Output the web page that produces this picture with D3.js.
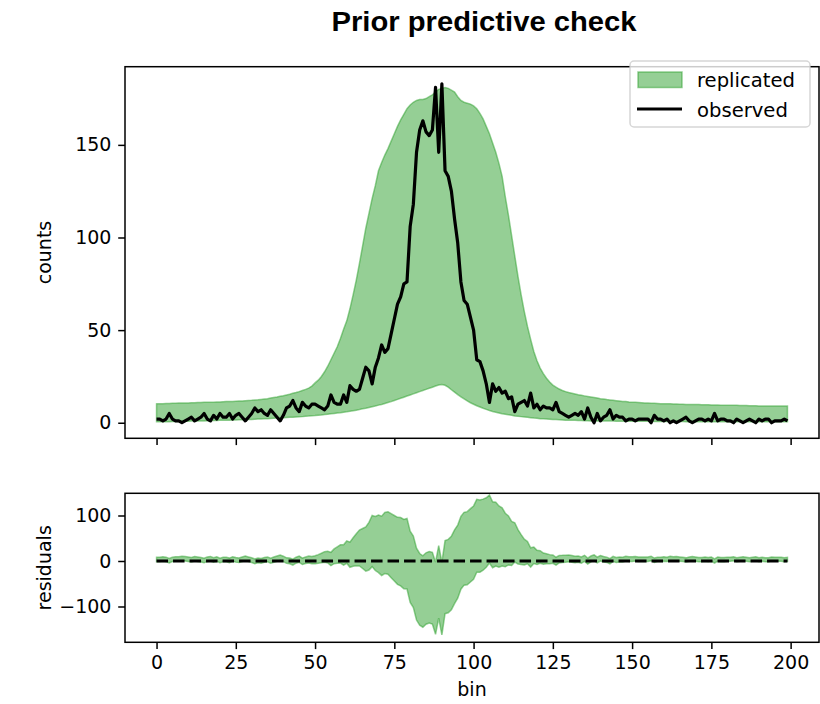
<!DOCTYPE html>
<html>
<head>
<meta charset="utf-8">
<script src="https://cdn.jsdelivr.net/npm/d3@7"></script>
<style>
body { margin: 0; background: #fff; }
text { font-family: "DejaVu Sans", sans-serif; fill: #000; }
</style>
</head>
<body>
<div id="chart"></div>
<script>
// bin index 0..199
var bins = d3.range(200);

// observed counts per bin
var observed = [
    2,2,1,2,5,2,1,1,0,1, 2,3,1,2,3,5,2,1,4,2,
    5,3,3,5,2,4,5,3,1,3, 5,8,6,7,5,4,7,5,3,1,
    4,8,9,12,8,6,11,9,8,10, 10,9,8,7,9,15,11,10,10,15,
    11,20,18,17,18,24,30,28,21,30, 35,42,38,40,48,56,64,68,75,76,
    106,118,146,158,163,157,155,158,181,146, 183,136,133,125,110,97,76,66,64,57,
    50,34,33,28,21,11,21,17,19,16, 17,13,14,6,10,11,12,9,16,8,
    10,7,9,8,8,7,11,6,5,4, 3,4,5,4,6,2,8,3,0,5,
    1,3,4,7,2,4,3,3,1,2, 2,1,2,2,2,2,0,4,2,2,
    1,2,0,1,0,1,2,3,1,0, 1,2,2,1,2,1,5,1,2,2,
    1,1,0,2,1,0,1,2,1,0, 2,1,2,2,0,1,1,1,2,1
];

// replicated band, lower edge
var replicatedLow = [
    0.5,0.5,0.6,0.6,0.6,0.7,0.7,0.7,0.8,0.8, 0.8,0.9,0.9,1.0,1.0,1.0,1.1,1.1,1.2,1.2,
    1.3,1.3,1.4,1.4,1.5,1.5,1.6,1.6,1.7,1.8, 1.8,1.9,2.0,2.0,2.1,2.2,2.3,2.4,2.5,2.6,
    2.7,2.8,2.9,3.0,3.1,3.2,3.3,3.5,3.6,3.8, 3.9,4.1,4.2,4.4,4.6,4.8,5.0,5.2,5.4,5.7,
    5.9,6.2,6.5,6.8,7.1,7.5,7.8,8.2,8.6,9.0, 9.5,9.9,10.4,10.9,11.4,12.0,12.6,13.2,13.8,14.4,
    15.0,15.6,16.2,16.8,17.4,18.0,18.6,19.2,19.8,20.4, 20.6,20.2,19.2,17.8,16.5,15.2,14.0,12.9,11.8,10.8,
    10.0,9.2,8.5,7.8,7.2,6.6,6.1,5.7,5.3,4.9, 4.6,4.3,4.0,3.7,3.5,3.3,3.1,2.9,2.7,2.5,
    2.4,2.2,2.1,2.0,1.9,1.8,1.7,1.6,1.5,1.4, 1.4,1.3,1.3,1.2,1.2,1.1,1.1,1.0,1.0,1.0,
    0.95,0.95,0.9,0.9,0.9,0.85,0.85,0.85,0.8,0.8, 0.8,0.8,0.75,0.75,0.75,0.75,0.7,0.7,0.7,0.7,
    0.7,0.7,0.65,0.65,0.65,0.65,0.65,0.6,0.6,0.6, 0.6,0.6,0.6,0.6,0.55,0.55,0.55,0.55,0.55,0.55,
    0.55,0.55,0.5,0.5,0.5,0.5,0.5,0.5,0.5,0.5, 0.5,0.5,0.5,0.5,0.5,0.5,0.5,0.5,0.5,0.5
];

// replicated band, upper edge
var replicatedHigh = [
    10.2,10.3,10.3,10.4,10.4,10.5,10.5,10.6,10.6,10.7, 10.7,10.8,10.8,10.9,10.9,11.0,11.0,11.1,11.1,11.2,
    11.2,11.3,11.4,11.4,11.5,11.6,11.7,11.8,11.9,12.0, 12.1,12.3,12.4,12.6,12.8,13.0,13.3,13.6,13.9,14.3,
    14.6,15.0,15.4,15.9,16.3,16.8,17.4,18.0,18.7,19.8, 21.5,23.0,25.0,27.5,30.5,34.0,37.5,41.0,45.5,50.5,
    55.0,61.5,69.0,77.0,86.0,95.5,105,113,121,128, 136,140.5,144.5,148,152,156,160,163.5,166.5,169.5,
    171.5,173,174,174.5,174.5,175,176,177,178.5,180, 180.5,181,180.5,179.5,178.5,176,174,173,172.5,172,
    171,169.5,167,164,160,156,151,146,140,133, 122,112,101,90,79,69,60,52,45,38.5,
    33.5,29.5,26.5,24.0,22.0,20.3,19.2,18.2,17.4,16.8, 16.3,15.9,15.5,15.1,14.8,14.5,14.2,13.9,13.6,13.3,
    13.0,12.8,12.5,12.3,12.1,11.9,11.7,11.5,11.4,11.2, 11.1,11.0,10.9,10.8,10.7,10.6,10.5,10.5,10.4,10.3,
    10.3,10.2,10.2,10.1,10.1,10.0,10.0,9.9,9.9,9.9, 9.8,9.8,9.7,9.7,9.7,9.6,9.6,9.6,9.5,9.5,
    9.5,9.4,9.4,9.4,9.3,9.3,9.3,9.2,9.2,9.2, 9.1,9.1,9.1,9.1,9.0,9.0,9.0,9.0,9.0,9.0
];

var countTicks = [0, 50, 100, 150];
var residualTicks = [-100, 0, 100];
var binTicks = [0, 25, 50, 75, 100, 125, 150, 175, 200];

var green = "#2ca02c";
var fontSize = "19px";
var lineW = 3.2;

var svg = d3.select("#chart").append("svg")
    .attr("width", 820)
    .attr("height", 704);

var x = d3.scaleLinear().domain([-9.95, 208.95]).range([125, 819]);
var yTop = d3.scaleLinear().domain([-8.4, 192.2]).range([438.3, 66.7]);
var yRes = d3.scaleLinear().domain([-178.7, 148.8]).range([642.3, 493.3]);

var fmt = function (d) { return d < 0 ? "\u2212" + Math.abs(d) : d; };

function styleAxis(g) {
    g.select(".domain").remove();
    g.selectAll(".tick line").attr("stroke", "#000").attr("stroke-width", 1.5);
    g.selectAll(".tick text").style("font-size", fontSize).attr("fill", "#000");
}

// ---- top panel ----
var band = d3.area()
    .x(function (d) { return x(d); })
    .y0(function (d) { return yTop(replicatedLow[d]); })
    .y1(function (d) { return yTop(replicatedHigh[d]); });

svg.append("path")
    .datum(bins)
    .attr("d", band)
    .attr("fill", green).attr("fill-opacity", 0.5)
    .attr("stroke", green).attr("stroke-opacity", 0.5).attr("stroke-width", 1.5);

svg.append("path")
    .datum(bins)
    .attr("d", d3.line().x(function (d) { return x(d); }).y(function (d) { return yTop(observed[d]); }))
    .attr("fill", "none")
    .attr("stroke", "#000")
    .attr("stroke-width", lineW)
    .attr("stroke-linejoin", "round");

svg.append("g")
    .attr("transform", "translate(125,0)")
    .call(d3.axisLeft(yTop).tickValues(countTicks).tickFormat(fmt).tickSize(6.8).tickPadding(6.8))
    .call(styleAxis);

svg.append("g")
    .attr("transform", "translate(0,438.3)")
    .call(d3.axisBottom(x).tickValues(binTicks).tickFormat("").tickSize(6.8))
    .call(styleAxis);

svg.append("rect")
    .attr("x", 125).attr("y", 66.7).attr("width", 694).attr("height", 371.6)
    .attr("fill", "none").attr("stroke", "#000").attr("stroke-width", 1.5);

svg.append("text")
    .attr("transform", "translate(51,252.5) rotate(-90)")
    .attr("text-anchor", "middle")
    .style("font-size", fontSize)
    .text("counts");

// legend
var leg = svg.append("g");
leg.append("rect")
    .attr("x", 630).attr("y", 61).attr("width", 180).attr("height", 66).attr("rx", 4)
    .attr("fill", "#fff").attr("fill-opacity", 0.8)
    .attr("stroke", "#ccc").attr("stroke-opacity", 0.8).attr("stroke-width", 1.5);
leg.append("rect")
    .attr("x", 638).attr("y", 72).attr("width", 44).attr("height", 15.5)
    .attr("fill", green).attr("fill-opacity", 0.5)
    .attr("stroke", green).attr("stroke-opacity", 0.5).attr("stroke-width", 1.5);
leg.append("line")
    .attr("x1", 637).attr("x2", 682).attr("y1", 109).attr("y2", 109)
    .attr("stroke", "#000").attr("stroke-width", lineW);
leg.append("text").attr("x", 697).attr("y", 86.5).style("font-size", "19.6px").text("replicated");
leg.append("text").attr("x", 697).attr("y", 116.5).style("font-size", "19.6px").text("observed");

// ---- residual panel ----
// residual band = replicated edges minus observed
var resBand = d3.area()
    .x(function (d) { return x(d); })
    .y0(function (d) { return yRes(replicatedLow[d] - observed[d]); })
    .y1(function (d) { return yRes(replicatedHigh[d] - observed[d]); });

svg.append("path")
    .datum(bins)
    .attr("d", resBand)
    .attr("fill", green).attr("fill-opacity", 0.5)
    .attr("stroke", green).attr("stroke-opacity", 0.5).attr("stroke-width", 1.5);

svg.append("path")
    .datum(bins)
    .attr("d", d3.line().x(function (d) { return x(d); }).y(function () { return yRes(0); }))
    .attr("fill", "none")
    .attr("stroke", "#000")
    .attr("stroke-width", lineW)
    .attr("stroke-dasharray", "11.5,5");

svg.append("g")
    .attr("transform", "translate(125,0)")
    .call(d3.axisLeft(yRes).tickValues(residualTicks).tickFormat(fmt).tickSize(6.8).tickPadding(6.8))
    .call(styleAxis);

svg.append("g")
    .attr("transform", "translate(0,642.3)")
    .call(d3.axisBottom(x).tickValues(binTicks).tickFormat(fmt).tickSize(6.8).tickPadding(6.8))
    .call(styleAxis);

svg.append("rect")
    .attr("x", 125).attr("y", 493.3).attr("width", 694).attr("height", 149)
    .attr("fill", "none").attr("stroke", "#000").attr("stroke-width", 1.5);

svg.append("text")
    .attr("transform", "translate(51,567.8) rotate(-90)")
    .attr("text-anchor", "middle")
    .style("font-size", fontSize)
    .text("residuals");

svg.append("text")
    .attr("x", 472).attr("y", 696)
    .attr("text-anchor", "middle")
    .style("font-size", fontSize)
    .text("bin");

// title
svg.append("text")
    .attr("x", 484).attr("y", 31)
    .attr("text-anchor", "middle")
    .attr("textLength", 305)
    .attr("lengthAdjust", "spacingAndGlyphs")
    .style("font-family", "'Liberation Sans', Arial, sans-serif")
    .style("font-weight", "bold")
    .style("font-size", "27px")
    .text("Prior predictive check");
</script>
</body>
</html>
